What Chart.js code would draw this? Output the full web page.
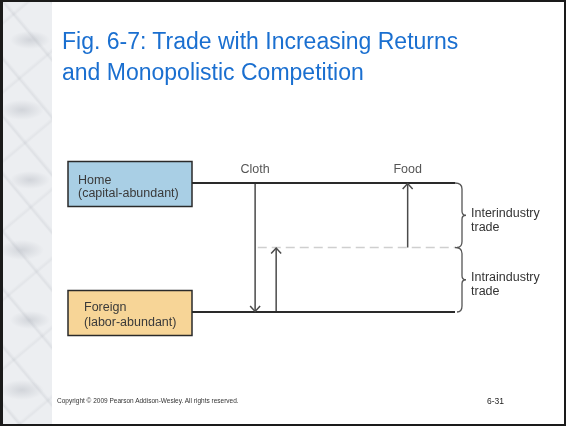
<!DOCTYPE html>
<html>
<head>
<meta charset="utf-8">
<script src="https://cdn.jsdelivr.net/npm/chart.js@4.4.1/dist/chart.umd.min.js"></script>
<style>
    html, body { margin: 0; padding: 0; background: #fff; }
    #slide { position: relative; width: 566px; height: 426px; overflow: hidden; background: #fff; font-family: "Liberation Sans", Arial, sans-serif; }
    #marble { position: absolute; left: 0; top: 0; width: 52px; height: 426px;
        background:
            radial-gradient(ellipse 20px 9px at 30px 40px, rgba(160,165,175,0.35), rgba(160,165,175,0) 100%),
            radial-gradient(ellipse 22px 10px at 22px 110px, rgba(160,165,175,0.35), rgba(160,165,175,0) 100%),
            radial-gradient(ellipse 20px 9px at 30px 180px, rgba(160,165,175,0.35), rgba(160,165,175,0) 100%),
            radial-gradient(ellipse 22px 10px at 22px 250px, rgba(160,165,175,0.35), rgba(160,165,175,0) 100%),
            radial-gradient(ellipse 20px 9px at 30px 320px, rgba(160,165,175,0.35), rgba(160,165,175,0) 100%),
            radial-gradient(ellipse 22px 10px at 22px 390px, rgba(160,165,175,0.35), rgba(160,165,175,0) 100%),
            repeating-linear-gradient(50deg, rgba(150,155,165,0) 0px, rgba(150,155,165,0) 14px, rgba(150,155,165,0.16) 16px, rgba(150,155,165,0) 19px, rgba(150,155,165,0) 37px),
            repeating-linear-gradient(-40deg, rgba(170,174,182,0) 0px, rgba(170,174,182,0) 20px, rgba(170,174,182,0.14) 22px, rgba(170,174,182,0) 25px, rgba(170,174,182,0) 53px),
            #eceef1; }
    #chartBox { position: absolute; left: 0; top: 0; width: 566px; height: 426px; }
    .title { position: absolute; left: 62px; color: #1a6fd0; font-size: 23px; white-space: nowrap; line-height: 1; }
    .foot { position: absolute; color: #333; white-space: nowrap; line-height: 1; }
    #frame { position: absolute; left: 0; top: 0; width: 566px; height: 426px; box-sizing: border-box; border: 2px solid #1a1a1a; border-left-width: 3px; pointer-events: none; }
</style>
</head>
<body>
<div id="slide">
    <div id="marble"></div>
    <div id="chartBox"><canvas id="tradeChart" width="566" height="426"></canvas></div>
    <div class="title" style="top:30px">Fig. 6-7: Trade with Increasing Returns</div>
    <div class="title" style="top:61px">and Monopolistic Competition</div>
    <div class="foot" style="left:57px; top:398px; font-size:6.5px">Copyright © 2009 Pearson Addison-Wesley. All rights reserved.</div>
    <div class="foot" style="left:487px; top:397px; font-size:8.5px; color:#222">6-31</div>
    <div id="frame"></div>
</div>
<script>
    // countries and their trade levels (Home on top, Foreign at bottom)
    const countries = ['Home', 'Foreign'];
    const countryNotes = ['(capital-abundant)', '(labor-abundant)'];
    const countryLevels = [2, 0];
    const lineSpan = [0, 10];

    // level dividing inter- from intraindustry trade
    const splitLevel = 1;
    const splitSpan = [2.5, 10];

    // goods labels and where they sit along the lines
    const goods = ['Cloth', 'Food'];
    const goodsPos = [2.4, 8.2];

    // trade flows: x position, start level, end level
    const flowX = [2.4, 3.2, 8.2];
    const flowFrom = [2, 0, 1];
    const flowTo = [0, 1, 2];

    // braces on the right
    const tradeTypes = [['Interindustry', 'trade'], ['Intraindustry', 'trade']];
    const tradeRanges = [[1, 2], [0, 1]];

    const pts = (xs, ys) => xs.map((x, i) => ({ x: x, y: ys[i] }));

    let datasets = [];
    countryLevels.forEach((lv, i) => {
        datasets.push({ label: countries[i], data: pts(lineSpan, [lv, lv]), borderColor: '#2a2a2a', borderWidth: 2, kind: 'country' });
    });
    datasets.push({ label: 'split', data: pts(splitSpan, [splitLevel, splitLevel]), borderColor: '#cfcfcf', borderWidth: 1.5, borderDash: [9, 5], kind: 'split' });
    flowX.forEach((x, i) => {
        datasets.push({ label: 'flow' + i, data: pts([x, x], [flowFrom[i], flowTo[i]]), borderColor: '#4a4a4a', borderWidth: 1.5, kind: 'arrow' });
    });
    datasets.forEach(d => { d.showLine = true; d.pointRadius = 0; d.fill = false; });

    const diagramPlugin = {
        id: 'diagram',
        afterDatasetsDraw(chart) {
            const ctx = chart.ctx;
            const xs = chart.scales.x, ys = chart.scales.y;
            ctx.save();

            // arrow heads
            chart.data.datasets.forEach(d => {
                if (d.kind !== 'arrow') return;
                let a = d.data[0], b = d.data[d.data.length - 1];
                let px = xs.getPixelForValue(b.x), py = ys.getPixelForValue(b.y);
                let dir = ys.getPixelForValue(b.y) > ys.getPixelForValue(a.y) ? 1 : -1;
                ctx.strokeStyle = d.borderColor;
                ctx.lineWidth = 1.5;
                ctx.beginPath();
                ctx.moveTo(px - 5, py - dir * 6);
                ctx.lineTo(px, py - dir * 0.5);
                ctx.lineTo(px + 5, py - dir * 6);
                ctx.stroke();
            });

            // country boxes
            const boxFill = ['#a9cfe5', '#f7d597'];
            const textX = [78, 84];
            const textDy = [[1, 14], [-1, 14]];
            let boxRight = xs.getPixelForValue(lineSpan[0]);
            countries.forEach((name, i) => {
                let cy = ys.getPixelForValue(countryLevels[i]);
                ctx.fillStyle = boxFill[i];
                ctx.fillRect(68, cy - 21.5, boxRight - 68, 45);
                ctx.strokeStyle = '#2a2a2a';
                ctx.lineWidth = 1.5;
                ctx.strokeRect(68, cy - 21.5, boxRight - 68, 45);
                ctx.fillStyle = '#3a3a3a';
                ctx.font = '12.5px "Liberation Sans", Arial, sans-serif';
                ctx.textBaseline = 'alphabetic';
                ctx.textAlign = 'left';
                ctx.fillText(name, textX[i], cy + textDy[i][0]);
                ctx.fillText(countryNotes[i], textX[i], cy + textDy[i][1]);
            });

            // goods labels above the Home line
            ctx.fillStyle = '#555';
            ctx.textAlign = 'center';
            goods.forEach((g, i) => {
                ctx.fillText(g, xs.getPixelForValue(goodsPos[i]), ys.getPixelForValue(countryLevels[0]) - 10);
            });

            // braces and their labels
            let x0 = xs.getPixelForValue(lineSpan[1]);
            let bx = x0 + 7, tip = x0 + 11;
            ctx.strokeStyle = '#555';
            ctx.lineWidth = 1.3;
            tradeRanges.forEach((r, i) => {
                let yt = ys.getPixelForValue(r[1]), yb = ys.getPixelForValue(r[0]);
                let ym = (yt + yb) / 2;
                ctx.beginPath();
                ctx.moveTo(x0, yt);
                ctx.quadraticCurveTo(bx, yt, bx, yt + 6);
                ctx.lineTo(bx, ym - 4);
                ctx.quadraticCurveTo(bx, ym, tip, ym);
                ctx.quadraticCurveTo(bx, ym, bx, ym + 4);
                ctx.lineTo(bx, yb - 6);
                ctx.quadraticCurveTo(bx, yb, x0 + 2, yb);
                ctx.stroke();
                ctx.fillStyle = '#333';
                ctx.textAlign = 'left';
                ctx.fillText(tradeTypes[i][0], 471, ym + 1.5);
                ctx.fillText(tradeTypes[i][1], 471, ym + 15.5);
            });
            ctx.restore();
        }
    };

    const chart = new Chart(document.getElementById('tradeChart'), {
        type: 'scatter',
        data: { datasets: datasets },
        options: {
            responsive: false,
            animation: false,
            layout: { padding: 0 },
            plugins: { legend: { display: false }, tooltip: { enabled: false } },
            scales: {
                x: { type: 'linear', display: false, min: -7.3004, max: 14.2205 },
                y: { type: 'linear', display: false, min: -1.7674, max: 4.8372 }
            }
        },
        plugins: [diagramPlugin]
    });
</script>
</body>
</html>
